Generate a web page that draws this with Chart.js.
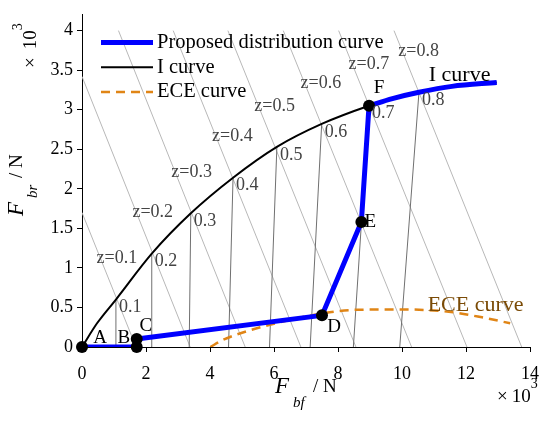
<!DOCTYPE html>
<html>
<head>
<meta charset="utf-8">
<script src="https://cdn.jsdelivr.net/npm/chart.js@4/dist/chart.umd.min.js"></script>
<style>
  html, body { margin: 0; padding: 0; background: #fff; }
  canvas { display: block; }
</style>
</head>
<body>
<canvas id="brakeChart" width="550" height="424"></canvas>
<script>
// Values in units of 10^3 N
const keyNames = ['A', 'B', 'C', 'D', 'E', 'F'];
const keyX = [0, 1.71, 1.71, 7.5, 8.73, 8.97];
const keyY = [0, 0, 0.1, 0.4, 1.58, 3.05];

// ideal (I) distribution curve
const iCurveX = [0, 0.47, 1.06, 2.18, 3.40, 4.72, 6.09, 7.49, 8.97, 9.70, 10.53, 11.56, 12.96];
const iCurveY = [0, 0.30, 0.60, 1.18, 1.69, 2.14, 2.53, 2.82, 3.05, 3.14, 3.22, 3.295, 3.345];

// ECE regulation curve
const eceX = [4.01, 4.41, 5.24, 6.48, 7.52, 8.56, 10.0, 11.46, 12.5, 13.38];
const eceY = [0, 0.09, 0.21, 0.34, 0.425, 0.47, 0.475, 0.445, 0.375, 0.30];

// constant deceleration lines (light gray), z = 0.1 ... 0.8
const zValues = ['0.1', '0.2', '0.3', '0.4', '0.5', '0.6', '0.7', '0.8'];
const zTopX = [0, 0, 1.14, 2.85, 4.56, 6.29, 8.02, 9.75];
const zTopY = [1.70, 3.42, 4, 4, 4, 4, 4, 4];
const zBottomX = [1.69, 3.38, 5.10, 6.84, 8.56, 10.30, 12.03, 13.74];

// front-lock lines (dark gray), from x axis up to the I curve
const fBottomX = [1.06, 2.16, 3.35, 4.58, 5.86, 7.13, 8.48, 9.93];
const fTopX = [1.06, 2.18, 3.40, 4.72, 6.09, 7.49, 8.97, 10.53];
const fTopY = [0.60, 1.18, 1.69, 2.14, 2.53, 2.82, 3.05, 3.22];

// axis ticks
const xTickValues = [0, 2, 4, 6, 8, 10, 12, 14];
const yTickValues = [0, 0.5, 1, 1.5, 2, 2.5, 3, 3.5, 4];

const SERIF = '"Liberation Serif", "Times New Roman", serif';
const BLUE = '#0000ff';
const ORANGE = '#e08516';
const LIGHT = '#b8b8b8';
const DARK = '#707070';

function pts(xs, ys) {
    return xs.map((x, i) => ({ x: x, y: ys[i] }));
}

// build datasets (first one is drawn on top)
const datasets = [];

datasets.push({
    label: 'points',
    data: pts(keyX, keyY),
    showLine: false,
    pointRadius: 6,
    pointBackgroundColor: '#000',
    pointBorderColor: '#000',
    pointBorderWidth: 0,
    clip: false
});

datasets.push({
    label: 'Proposed distribution curve',
    data: pts(keyX, keyY),
    showLine: true,
    borderColor: BLUE,
    borderWidth: 5,
    borderJoinStyle: 'round',
    borderCapStyle: 'round',
    pointRadius: 0,
    tension: 0
});

const tailX = iCurveX.filter(x => x >= keyX[5]);
const tailY = iCurveY.filter((y, i) => iCurveX[i] >= keyX[5]);
datasets.push({
    label: 'proposed tail',
    data: pts(tailX, tailY),
    showLine: true,
    borderColor: BLUE,
    borderWidth: 5,
    borderCapStyle: 'butt',
    pointRadius: 0,
    cubicInterpolationMode: 'monotone'
});

datasets.push({
    label: 'I curve',
    data: pts(iCurveX, iCurveY),
    showLine: true,
    borderColor: '#000',
    borderWidth: 2,
    pointRadius: 0,
    cubicInterpolationMode: 'monotone'
});

datasets.push({
    label: 'ECE curve',
    data: pts(eceX, eceY),
    showLine: true,
    borderColor: ORANGE,
    borderWidth: 2.5,
    borderDash: [9, 6],
    pointRadius: 0,
    cubicInterpolationMode: 'monotone'
});

fBottomX.forEach((bx, i) => {
    datasets.push({
        label: 'f' + i,
        data: [{ x: bx, y: 0 }, { x: fTopX[i], y: fTopY[i] }],
        showLine: true,
        borderColor: DARK,
        borderWidth: 1,
        pointRadius: 0
    });
});

zTopX.forEach((tx, i) => {
    datasets.push({
        label: 'z' + i,
        data: [{ x: tx, y: zTopY[i] }, { x: zBottomX[i], y: 0 }],
        showLine: true,
        borderColor: LIGHT,
        borderWidth: 1,
        pointRadius: 0
    });
});

// draw a "F_sub / N" style label along the current x direction
function drawAxisTitle(ctx, sub) {
    ctx.textAlign = 'left';
    ctx.textBaseline = 'alphabetic';
    ctx.font = 'italic 23px ' + SERIF;
    ctx.fillText('F', 0, 0);
    ctx.font = 'italic 15px ' + SERIF;
    ctx.fillText(sub, 18, 14);
    ctx.font = '19px ' + SERIF;
    ctx.fillText('/ N', 38, -1);
}

// "x10^3" multiplier, gap = extra space after the times sign
function drawPower(ctx, gap) {
    ctx.textAlign = 'left';
    ctx.textBaseline = 'alphabetic';
    ctx.font = '19px ' + SERIF;
    ctx.fillText('\u00d7', 0, 0);
    let w = ctx.measureText('\u00d7').width + gap;
    ctx.fillText('10', w, 0);
    w += ctx.measureText('10').width;
    ctx.font = '14px ' + SERIF;
    ctx.fillText('3', w, -14);
}

// texts, legend and axis titles
const annotate = {
    id: 'annotate',
    afterDraw(chart) {
        const ctx = chart.ctx;
        const xs = chart.scales.x, ys = chart.scales.y;
        const px = v => xs.getPixelForValue(v);
        const py = v => ys.getPixelForValue(v);
        ctx.save();

        // z labels and front-line labels
        ctx.fillStyle = '#444';
        ctx.font = '18px ' + SERIF;
        ctx.textBaseline = 'middle';
        ctx.textAlign = 'left';
        zValues.forEach((z, i) => {
            const tx = px(fTopX[i]), ty = py(fTopY[i]);
            ctx.fillText(z, tx + 3, ty + 8);
            const ly = ty - 41;
            const x1 = px(zTopX[i]), y1 = py(zTopY[i]);
            const x2 = px(zBottomX[i]), y2 = py(0);
            const lx = x1 + (ly - y1) * (x2 - x1) / (y2 - y1);
            ctx.fillText('z=' + z, lx - 4, ly);
        });

        // point letters
        const letterOffset = [[18, -9], [-13, -9], [9, -13], [12, 12], [9, 0], [10, -18]];
        ctx.fillStyle = '#000';
        ctx.font = '19px ' + SERIF;
        ctx.textAlign = 'center';
        keyNames.forEach((n, i) => {
            ctx.fillText(n, px(keyX[i]) + letterOffset[i][0], py(keyY[i]) + letterOffset[i][1]);
        });

        // curve names
        ctx.font = '22px ' + SERIF;
        ctx.fillText('I curve', px(11.8), py(3.44));
        ctx.fillStyle = '#7a4a05';
        ctx.fillText('ECE curve', px(12.3), py(0.53));

        // legend
        const legendRows = [
            { text: 'Proposed distribution curve', color: BLUE, width: 5, dash: [] },
            { text: 'I curve', color: '#000', width: 2, dash: [] },
            { text: 'ECE curve', color: ORANGE, width: 2.5, dash: [9, 6] }
        ];
        legendRows.forEach((r, i) => {
            const y = 42.5 + i * 24.7;
            ctx.beginPath();
            ctx.strokeStyle = r.color;
            ctx.lineWidth = r.width;
            ctx.setLineDash(r.dash);
            ctx.moveTo(101, y);
            ctx.lineTo(153, y);
            ctx.stroke();
            ctx.setLineDash([]);
            ctx.fillStyle = '#000';
            ctx.font = '20.5px ' + SERIF;
            ctx.textAlign = 'left';
            ctx.textBaseline = 'middle';
            ctx.fillText(r.text, 157, y);
        });

        // axis titles
        ctx.fillStyle = '#000';
        ctx.save();
        ctx.translate(275, 393);
        drawAxisTitle(ctx, 'bf');
        ctx.restore();

        ctx.save();
        ctx.translate(23, 216);
        ctx.rotate(-Math.PI / 2);
        drawAxisTitle(ctx, 'br');
        ctx.restore();

        // x10^3 multipliers
        ctx.save();
        ctx.translate(497, 402);
        drawPower(ctx, 4);
        ctx.restore();

        ctx.save();
        ctx.translate(36, 68);
        ctx.rotate(-Math.PI / 2);
        drawPower(ctx, 8);
        ctx.restore();

        ctx.restore();
    }
};

function axisStyle() {
    return {
        type: 'linear',
        grid: {
            display: true,
            drawOnChartArea: false,
            drawTicks: true,
            tickLength: 5,
            tickColor: '#000',
            tickWidth: 1
        },
        border: { display: true, color: '#000', width: 1 },
        ticks: {
            color: '#000',
            font: { family: SERIF, size: 18 },
            callback: v => String(v)
        }
    };
}

const xAxis = axisStyle();
xAxis.min = 0;
xAxis.max = 14;
xAxis.position = 'bottom';
xAxis.ticks.padding = 11;
xAxis.afterBuildTicks = s => { s.ticks = xTickValues.map(v => ({ value: v })); };
xAxis.afterFit = s => { s.height = 77; };

const yAxis = axisStyle();
yAxis.min = 0;
yAxis.max = 4.2;
yAxis.position = 'left';
yAxis.ticks.padding = 4;
yAxis.afterBuildTicks = s => { s.ticks = yTickValues.map(v => ({ value: v })); };
yAxis.afterFit = s => { s.width = 82; };

new Chart(document.getElementById('brakeChart').getContext('2d'), {
    type: 'scatter',
    data: { datasets: datasets },
    options: {
        responsive: false,
        animation: false,
        devicePixelRatio: 1,
        layout: { padding: { left: 0, right: 18, top: 14, bottom: 0 } },
        plugins: {
            legend: { display: false },
            tooltip: { enabled: false }
        },
        scales: { x: xAxis, y: yAxis }
    },
    plugins: [annotate]
});
</script>
</body>
</html>
